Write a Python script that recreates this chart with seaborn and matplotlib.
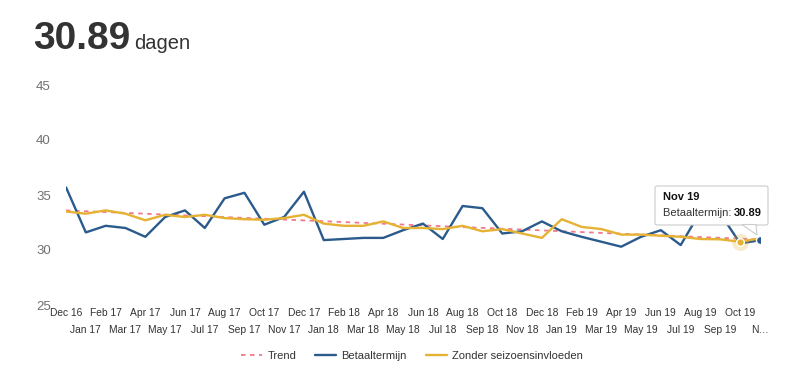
import matplotlib
matplotlib.use("Agg")
import matplotlib.pyplot as plt
import seaborn as sns
import pandas as pd
import numpy as np
from matplotlib.lines import Line2D
from matplotlib.patches import FancyBboxPatch, Polygon

# ---- data ----
months = ["Dec 16", "Jan 17", "Feb 17", "Mar 17", "Apr 17", "May 17", "Jun 17", "Jul 17",
          "Aug 17", "Sep 17", "Oct 17", "Nov 17", "Dec 17", "Jan 18", "Feb 18", "Mar 18",
          "Apr 18", "May 18", "Jun 18", "Jul 18", "Aug 18", "Sep 18", "Oct 18", "Nov 18",
          "Dec 18", "Jan 19", "Feb 19", "Mar 19", "Apr 19", "May 19", "Jun 19", "Jul 19",
          "Aug 19", "Sep 19", "Oct 19", "Nov 19"]
tick_labels = months[:-1] + ["N…"]
betaaltermijn = [35.7, 31.6, 32.2, 32.0, 31.2, 33.0, 33.6, 32.0, 34.7, 35.2, 32.3, 33.0,
                 35.3, 30.9, 31.0, 31.1, 31.1, 31.8, 32.4, 31.0, 34.0, 33.8, 31.5, 31.7,
                 32.6, 31.7, 31.2, 30.75, 30.3, 31.2, 31.8, 30.45, 33.5, 33.3, 30.6, 30.89]
zonder = [33.5, 33.3, 33.6, 33.3, 32.7, 33.2, 33.0, 33.2, 32.9, 32.8, 32.75, 32.9,
          33.2, 32.4, 32.2, 32.2, 32.6, 32.0, 32.0, 31.9, 32.2, 31.7, 31.9, 31.5,
          31.1, 32.8, 32.1, 31.9, 31.4, 31.4, 31.3, 31.2, 31.0, 30.97, 30.75, 31.06]
trend_months = ["Dec 16", "Nov 19"]
trend_values = [33.6, 30.95]
y_ticks = [25, 30, 35, 40, 45]
headline = "30.89"
unit = "dagen"

BLUE = "#2a5b8c"
YELLOW = "#e5b233"
PINK = "#f07a8c"
TXT = "#333333"
GRAY = "#707070"

sns.set_theme(style="white")
plt.rcParams["font.family"] = ["Liberation Sans", "DejaVu Sans"]

fig = plt.figure(figsize=(8.0, 3.83), dpi=100)
ax = fig.add_axes([66 / 800, (383 - 305) / 383, (760 - 66) / 800, 220 / 383])

idx = {m: i for i, m in enumerate(months)}
df = pd.DataFrame({"x": np.arange(len(months)), "b": betaaltermijn, "z": zonder})
dft = pd.DataFrame({"x": [idx[m] for m in trend_months], "t": trend_values})

sns.lineplot(data=dft, x="x", y="t", ax=ax, color=PINK, linewidth=1.3,
             linestyle=(0, (2.5, 2.5)), zorder=2)
sns.lineplot(data=df, x="x", y="b", ax=ax, color=BLUE, linewidth=1.7, zorder=3)
sns.lineplot(data=df, x="x", y="z", ax=ax, color=YELLOW, linewidth=1.7, zorder=4)

# hover markers
ox = idx["Oct 19"]
ax.scatter([ox], [zonder[ox]], s=150, color=YELLOW, alpha=0.25, zorder=5, linewidths=0)
ax.scatter([ox], [zonder[ox]], s=30, color=YELLOW, edgecolor="white", linewidth=1, zorder=6)
nx = idx["Nov 19"]
ax.scatter([nx], [betaaltermijn[nx]], s=34, color=BLUE, edgecolor="white", linewidth=1, zorder=7)

ax.set_xlim(0, len(months) - 1)
ax.set_ylim(25, 45)
ax.set_yticks(y_ticks)
ax.set_yticklabels([str(v) for v in y_ticks], color=GRAY, fontsize=9.5)
ax.set_xticks(np.arange(len(months)))
ax.set_xticklabels([])
for i, lab in enumerate(tick_labels):
    ax.annotate(lab, xy=(i, 0), xycoords=("data", "axes fraction"),
                xytext=(0, -2 if i % 2 == 0 else -14.5), textcoords="offset points",
                ha="center", va="top", fontsize=7.4, color=TXT, annotation_clip=False)
ax.tick_params(axis="y", length=0, pad=11)
ax.tick_params(axis="x", length=0)
ax.set_xlabel("")
ax.set_ylabel("")
for s in ax.spines.values():
    s.set_visible(False)
ax.grid(False)

# tooltip
rect = FancyBboxPatch((655 / 800, 1 - 225 / 383), 113 / 800, 39 / 383,
                      boxstyle="round,pad=0,rounding_size=0.004", transform=fig.transFigure,
                      facecolor="white", edgecolor="#cccccc", linewidth=0.8, zorder=9)
fig.patches.append(rect)
tri = Polygon([(742 / 800, 1 - 224.5 / 383), (756 / 800, 1 - 224.5 / 383), (757 / 800, 1 - 235 / 383)],
              closed=True, transform=fig.transFigure, facecolor="white", edgecolor="#cccccc",
              linewidth=0.8, zorder=9)
fig.patches.append(tri)
box_x = 663 / 800
fig.text(box_x, 1 - 192 / 383, "Nov 19", fontsize=8, fontweight="bold", color="#111111",
         va="top", ha="left", zorder=10)
fig.text(box_x, 1 - 208 / 383, "Betaaltermijn: ", fontsize=8, color=TXT,
         va="top", ha="left", zorder=10)
fig.text(box_x + 71 / 800, 1 - 208 / 383, "30.89", fontsize=8, fontweight="bold",
         color="#111111", va="top", ha="left", zorder=10)

# headline
fig.text(33 / 800, 1 - 49 / 383, headline, fontsize=28, fontweight="bold", color=TXT,
         ha="left", va="baseline")
fig.text(134 / 800, 1 - 49 / 383, unit, fontsize=14.5, color=TXT, ha="left", va="baseline")

handles = [Line2D([], [], color=PINK, linewidth=1.3, linestyle=(0, (2.5, 2.5))),
           Line2D([], [], color=BLUE, linewidth=1.7),
           Line2D([], [], color=YELLOW, linewidth=1.7)]
fig.legend(handles, ["Trend", "Betaaltermijn", "Zonder seizoensinvloeden"],
           loc="center", bbox_to_anchor=(412 / 800, 1 - 356 / 383), ncol=3, frameon=False,
           fontsize=8, handlelength=1.9, columnspacing=1.7, handletextpad=0.45,
           labelcolor=TXT)

fig.savefig("out.png", dpi=100, facecolor="white")
